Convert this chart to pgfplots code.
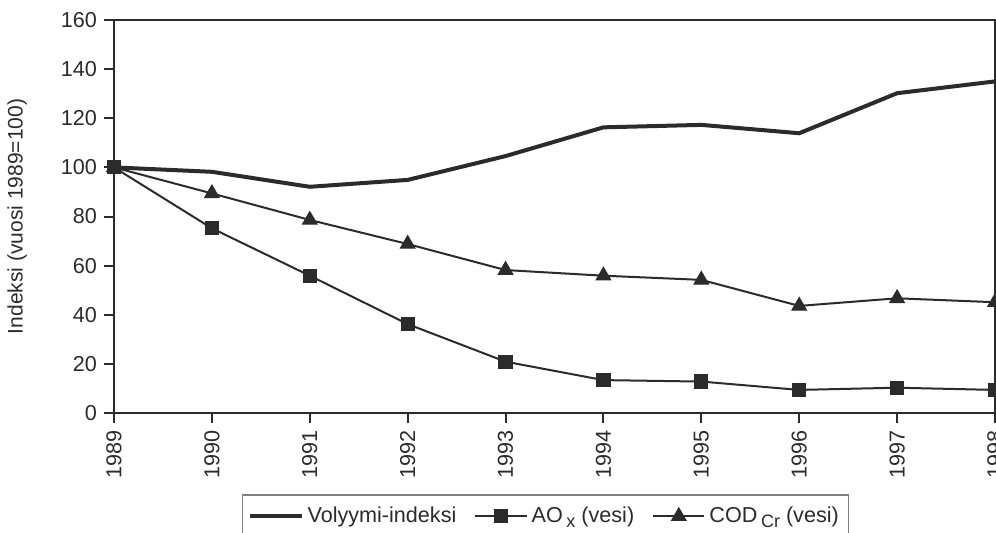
\documentclass[border=0pt]{standalone}
\usepackage{fontspec}
\setmainfont{Liberation Sans}
\usepackage{pgfplots}
\pgfplotsset{compat=1.18}
\definecolor{ink}{HTML}{2B2B2B}
\newcommand{\sub}[1]{\,\raisebox{-2.6pt}{\fontsize{9}{10}\selectfont #1}}
\begin{document}
\begin{tikzpicture}
\begin{axis}[
  scale only axis, width=440.5pt, height=196.5pt, at={(0,0)}, anchor=south west,
  xmin=1989, xmax=1998, ymin=0, ymax=160,
  xtick={1989,1990,...,1998}, ytick={0,20,...,160},
  tick align=outside, tick pos=left, major tick length=5pt,
  axis line style={ink, line width=1.1pt},
  every tick/.style={ink, line width=1pt},
  /pgf/number format/assume math mode=true,
  /pgf/number format/1000 sep={},
  font=\fontsize{10.8}{12}\selectfont,
  ticklabel style={font=\fontsize{10.8}{12}\selectfont, text=ink},
  xticklabel style={rotate=90, anchor=east},
  ylabel={Indeksi (vuosi 1989=100)},
  ylabel style={at={(axis description cs:-0.110,0.5)}, anchor=center, text=ink, font=\fontsize{10.5}{12}\selectfont},
  clip=false,
  legend columns=3,
  legend cell align=left,
  legend style={at={(axis description cs:0.145,-0.207)}, anchor=north west, draw=gray, line width=0.6pt,
    font=\fontsize{10.8}{12}\selectfont, text=ink, inner xsep=3pt, inner ysep=4pt,
    /tikz/every even column/.append style={column sep=7pt}},
  legend image code/.code={\draw[mark repeat=2,mark phase=2] plot coordinates {(0cm,0cm) (0.45cm,0cm) (0.9cm,0cm)};},
]
\addplot[ink, line width=2pt] coordinates {
(1989,100) (1990,98.2) (1991,92.1) (1992,94.9) (1993,104.6) (1994,116.3) (1995,117.3) (1996,113.9) (1997,130.2) (1998,135.0)};
\addlegendentry{Volyymi-indeksi}
\addplot[ink, line width=1pt, mark=square*, mark size=3.3pt, mark options={solid, fill=ink, line width=0.5pt}] coordinates {
(1989,100) (1990,75.2) (1991,55.9) (1992,36.2) (1993,20.9) (1994,13.4) (1995,12.8) (1996,9.4) (1997,10.3) (1998,9.4)};
\addlegendentry{AO\sub{x} (vesi)}
\addplot[ink, line width=1pt, mark=triangle*, mark size=4.2pt, mark options={solid, fill=ink, line width=0.5pt}] coordinates {
(1989,100) (1990,89.4) (1991,78.6) (1992,68.8) (1993,58.2) (1994,55.9) (1995,54.2) (1996,43.6) (1997,46.7) (1998,45.1)};
\addlegendentry{COD\sub{Cr} (vesi)}
\end{axis}
\pgfresetboundingbox
\useasboundingbox (-57pt,-59.5pt) rectangle (441pt,206.5pt);
\end{tikzpicture}
\end{document}
